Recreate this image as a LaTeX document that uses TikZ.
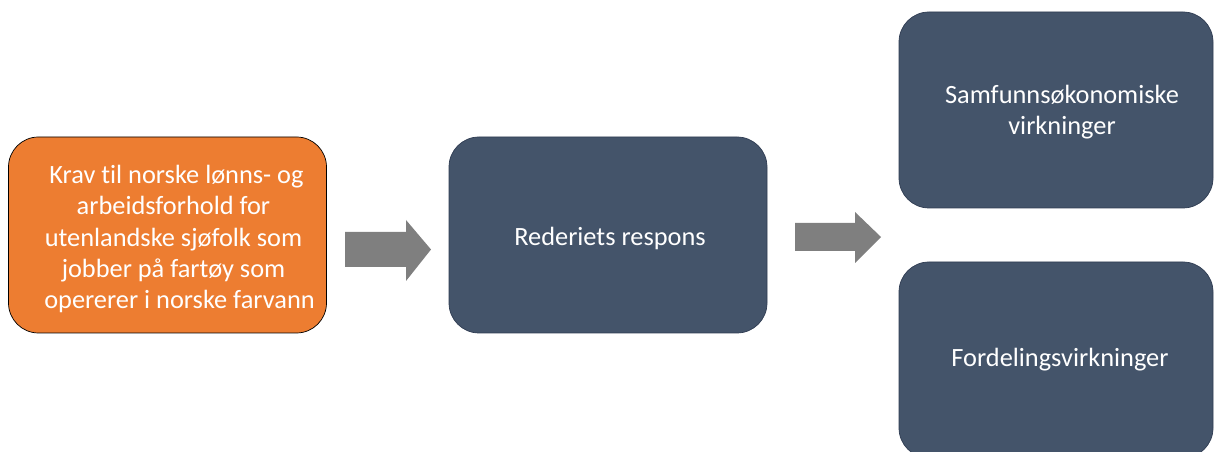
\documentclass[tikz,border=0pt]{standalone}
\usepackage{fontspec}
\setmainfont{Carlito}[Ligatures=NoCommon]
\usepackage{xcolor}
\definecolor{oransje}{RGB}{237, 125, 49}
\definecolor{blagra}{RGB}{68, 84, 106}
\definecolor{blakant}{RGB}{47, 60, 82}
\definecolor{pilgra}{RGB}{127, 127, 127}

\begin{document}
\begin{tikzpicture}[
        boks/.style={rounded corners=0.6cm, minimum width=6.36cm, minimum height=3.92cm, inner sep=0pt},
        tekst/.style={text=white, font=\fontsize{15}{17.8}\selectfont, align=center}
    ]
        % hele arket, høyre nederste boks går ut over kanten
        \useasboundingbox (0,0) rectangle (24.3,9.04);
        \clip (0,0) rectangle (24.3,9.04);
        % bokser
        \node[boks, draw=black, thin, fill=oransje] (krav) at (3.35,4.34) {};
        \node[boks, draw=blakant, fill=blagra] (respons) at (12.16,4.34) {};
        \node[boks, draw=blakant, fill=blagra, minimum width=6.28cm] (samf) at (21.12,6.84) {};
        \node[boks, draw=blakant, fill=blagra, minimum width=6.28cm] (fordeling) at (21.12,1.84) {};
        % tekst i boksene
        \node[tekst] (kravtekst) at (3.47,4.26) {\ Krav til norske lønns- og\\arbeidsforhold for\\utenlandske sjøfolk som\\jobber på fartøy som\\\ \ opererer i norske farvann};
        \node[tekst] (responstekst) at (12.2,4.28) {Rederiets respons};
        \node[tekst] (samftekst) at (21.24,6.8) {Samfunnsøkonomiske\\virkninger};
        \node[tekst] (fordelingtekst) at (21.2,1.84) {Fordelingsvirkninger};
        % piler
        \fill[pilgra] (6.9,4.4) -- (8.12,4.4) -- (8.12,4.64) -- (8.62,4.05) -- (8.12,3.42) -- (8.12,3.7) -- (6.9,3.7) -- cycle;
        \fill[pilgra] (15.9,4.58) -- (17.1,4.58) -- (17.1,4.8) -- (17.62,4.3) -- (17.1,3.78) -- (17.1,4.02) -- (15.9,4.02) -- cycle;
    \end{tikzpicture}
\end{document}
